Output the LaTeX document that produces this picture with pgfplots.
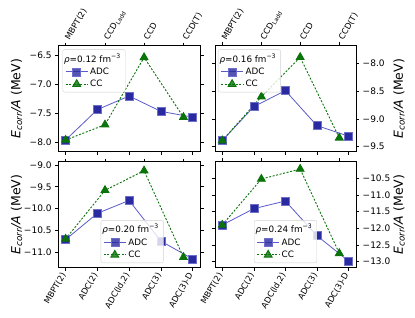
\documentclass[border=0pt]{standalone}
\usepackage{pgfplots}
\pgfplotsset{compat=1.18}
\usepackage{fontspec}
\setmainfont{DejaVu Sans}
\definecolor{adcline}{RGB}{90,90,200}
\definecolor{adcfill}{RGB}{42,42,160}
\definecolor{adcedge}{RGB}{110,110,205}
\definecolor{ccgreen}{RGB}{10,115,10}
\pgfplotsset{
  panel/.style={
    scale only axis, width=142pt, xmin=-0.23, xmax=4.24,
    tick align=outside, major tick length=3.2pt,
    axis line style={line width=0.8pt},
    every tick/.style={black, line width=0.6pt},
    yticklabel style={font=\fontsize{9}{10}\selectfont},
    xticklabel style={font=\fontsize{8.3}{9}\selectfont},
    clip=false,
    ylabel style={font=\fontsize{12.5}{14}\selectfont, rotate=0, anchor=center},
    legend cell align=left,
    legend style={font=\fontsize{8.8}{10.5}\selectfont, draw=black!18, fill=white, fill opacity=0.8, text opacity=1, rounded corners=2pt, inner xsep=2.5pt, inner ysep=2pt, row sep=0.3pt},
  },
  adc/.style={adcline, line width=0.8pt, mark=square*, mark size=4pt, mark options={solid, fill=adcfill, draw=adcedge, line width=0.6pt}},
  cc/.style={ccgreen, line width=0.9pt, dash pattern=on 2pt off 1.6pt, mark=triangle*, mark size=4.5pt, mark options={solid, fill=ccgreen, draw=ccgreen}},
  lim/.style={legend image code/.code={\draw[mark repeat=2,mark phase=2,##1] plot coordinates {(0pt,0pt) (11pt,0pt) (22pt,0pt)};}},
  bottomticks/.style={xtick={0,1,2,3,4}, xtick pos=left, xticklabel pos=left},
  topticks/.style={xtick={0,1.24,2.47,3.71}, xtick pos=right, xticklabel pos=right, hide y axis},
  leftlab/.style={ytick pos=both, yticklabel pos=left, ylabel style={at={(axis description cs:-0.294,0.5)}}},
  rightlab/.style={ytick pos=both, yticklabel pos=right, ylabel style={at={(axis description cs:1.305,0.5)}}},
}
\newcommand{\ylab}{{\itshape E}\textsubscript{\itshape corr}{\itshape /A} (MeV)}
\newcommand{\rhot}[1]{\hspace*{-26pt}{\itshape ρ}=#1 fm\textsuperscript{−3}}
\begin{document}
\begin{tikzpicture}
\path[use as bounding box] (0,0) rectangle (415pt,317pt);
% ---------------- top-left
\begin{axis}[panel, at={(58.3pt,165.3pt)}, anchor=south west, height=106pt,
  ymin=-8.155, ymax=-6.328, leftlab, bottomticks, xticklabels={},
  ytick={-8,-7.5,-7,-6.5}, yticklabels={−8.0,−7.5,−7.0,−6.5}, ylabel={\ylab},
  legend style={at={(axis description cs:0.03,0.965)}, anchor=north west}]
\addlegendimage{empty legend}\addlegendentry{\rhot{0.12}}
\addplot[adc, lim] coordinates {(0,-7.954)(1,-7.43)(2,-7.195)(3,-7.46)(4,-7.56)};
\addlegendentry{ADC}
\addplot[cc, lim] coordinates {(0,-7.954)(1.24,-7.69)(2.47,-6.53)(3.71,-7.56)};
\addlegendentry{CC}
\end{axis}
\begin{axis}[panel, at={(58.3pt,165.3pt)}, anchor=south west, height=106pt,
  ymin=-8.155, ymax=-6.328, topticks,
  xticklabels={MBPT(2),CCD\textsubscript{Ladd},CCD,CCD(T)},
  xticklabel style={rotate=60, anchor=west}]
\end{axis}
% ---------------- top-right
\begin{axis}[panel, at={(215pt,165.3pt)}, anchor=south west, width=141pt, height=106pt,
  ymin=-9.59, ymax=-7.682, rightlab, bottomticks, xticklabels={},
  ytick={-9.5,-9,-8.5,-8}, yticklabels={−9.5,−9.0,−8.5,−8.0}, ylabel={\ylab},
  legend style={at={(axis description cs:0.021,0.965)}, anchor=north west}]
\addlegendimage{empty legend}\addlegendentry{\rhot{0.16}}
\addplot[adc, lim] coordinates {(0,-9.39)(1,-8.78)(2,-8.49)(3,-9.12)(4,-9.31)};
\addlegendentry{ADC}
\addplot[cc, lim] coordinates {(0,-9.39)(1.24,-8.60)(2.47,-7.89)(3.71,-9.34)};
\addlegendentry{CC}
\end{axis}
\begin{axis}[panel, at={(215pt,165.3pt)}, anchor=south west, width=141pt, height=106pt,
  ymin=-9.59, ymax=-7.682, topticks,
  xticklabels={MBPT(2),CCD\textsubscript{Ladd},CCD,CCD(T)},
  xticklabel style={rotate=60, anchor=west}]
\end{axis}
% ---------------- bottom-left
\begin{axis}[panel, at={(58.3pt,49.7pt)}, anchor=south west, height=105.6pt,
  ymin=-11.352, ymax=-8.923, leftlab, bottomticks,
  xticklabels={MBPT(2),ADC(2),{ADC(ld,2)},ADC(3),ADC(3)-D},
  xticklabel style={rotate=60, anchor=east},
  ytick={-11,-10.5,-10,-9.5,-9}, yticklabels={−11.0,−10.5,−10.0,−9.5,−9.0}, ylabel={\ylab},
  legend style={at={(axis description cs:0.52,0.04)}, anchor=south}]
\addlegendimage{empty legend}\addlegendentry{\rhot{0.20}}
\addplot[adc, lim] coordinates {(0,-10.715)(1,-10.11)(2,-9.815)(3,-10.75)(4,-11.16)};
\addlegendentry{ADC}
\addplot[cc, lim] coordinates {(0,-10.70)(1.24,-9.58)(2.47,-9.13)(3.71,-11.12)};
\addlegendentry{CC}
\end{axis}
\begin{axis}[panel, at={(58.3pt,49.7pt)}, anchor=south west, height=105.6pt,
  ymin=-11.352, ymax=-8.923, topticks, xticklabels={}]
\end{axis}
% ---------------- bottom-right
\begin{axis}[panel, at={(215pt,49.7pt)}, anchor=south west, width=141pt, height=105.6pt,
  ymin=-13.17, ymax=-10.0, rightlab, bottomticks,
  xticklabels={MBPT(2),ADC(2),{ADC(ld,2)},ADC(3),ADC(3)-D},
  xticklabel style={rotate=60, anchor=east},
  ytick={-13,-12.5,-12,-11.5,-11,-10.5}, yticklabels={−13.0,−12.5,−12.0,−11.5,−11.0,−10.5}, ylabel={\ylab},
  legend style={at={(axis description cs:0.5,0.04)}, anchor=south}]
\addlegendimage{empty legend}\addlegendentry{\rhot{0.24}}
\addplot[adc, lim] coordinates {(0,-11.90)(1,-11.41)(2,-11.18)(3,-12.22)(4,-12.98)};
\addlegendentry{ADC}
\addplot[cc, lim] coordinates {(0,-11.90)(1.24,-10.52)(2.47,-10.22)(3.71,-12.75)};
\addlegendentry{CC}
\end{axis}
\begin{axis}[panel, at={(215pt,49.7pt)}, anchor=south west, width=141pt, height=105.6pt,
  ymin=-13.17, ymax=-10.0, topticks, xticklabels={}]
\end{axis}
\end{tikzpicture}
\end{document}
